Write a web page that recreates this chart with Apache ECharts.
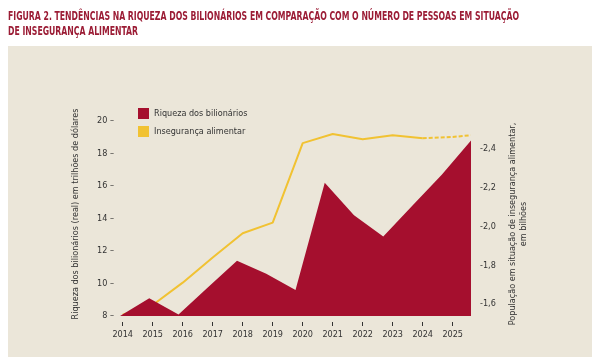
<!DOCTYPE html>
<html><head><meta charset="utf-8">
<script src="https://cdn.jsdelivr.net/npm/echarts@6/dist/echarts.min.js"></script>
<style>html,body{margin:0;padding:0;background:#fff}#c{width:600px;height:357px}</style>
</head><body><div id="c"></div>
<script>
// Tick labels (x axis years)
const yearLabels = [2014,2015,2016,2017,2018,2019,2020,2021,2022,2023,2024,2025];
// Billionaire wealth (trillion USD), as drawn (13 points across the plot width)
const wealthYears = [2014,2015,2016,2017,2018,2019,2020,2021,2022,2023,2024,2025,2026];
const wealthValues = [8.0,9.1,8.1,9.75,11.4,10.6,9.6,16.2,14.2,12.9,14.8,16.7,18.8];
// Food insecurity (billions), solid part
const foodYears = [2014,2015,2016,2017,2018,2019,2020,2021,2022,2023,2024];
const foodValues = [1.545,1.595,1.71,1.84,1.965,2.02,2.43,2.477,2.45,2.47,2.455];
// Food insecurity, dashed (projection) part
const projYears = [2024,2025,2025.6];
const projValues = [2.455,2.462,2.47];
const leftTicks = [8,10,12,14,16,18,20];
const rightTicks = [1.6,1.8,2.0,2.2,2.4];

const RED = '#a50f2e', YEL = '#f1c232', TXT = '#333333';
const FONT = '"DejaVu Sans Condensed","DejaVu Sans",sans-serif';
const TITLE1 = 'FIGURA 2. TENDÊNCIAS NA RIQUEZA DOS BILIONÁRIOS EM COMPARAÇÃO COM O NÚMERO DE PESSOAS EM SITUAÇÃO';
const TITLE2 = 'DE INSEGURANÇA ALIMENTAR';
const TFONT = 'bold 13px ' + FONT;
const ctx = document.createElement('canvas').getContext('2d');
ctx.font = TFONT;
const tScale = 511 / ctx.measureText(TITLE1).width;

const chart = echarts.init(document.getElementById('c'), null, {renderer:'canvas'});
chart.setOption({
  animation:false,
  backgroundColor:'#ffffff',
  graphic:[
    {type:'rect', z:-10, shape:{x:8,y:46,width:584,height:311}, style:{fill:'#ebe6d9'}},
    {type:'text', x:8, y:10, scaleX:tScale, style:{text:TITLE1, fill:'#9b1c35', font:TFONT}},
    {type:'text', x:8, y:25, scaleX:tScale, style:{text:TITLE2, fill:'#9b1c35', font:TFONT}},
    {type:'text', x:76, y:214, rotation:Math.PI/2, style:{text:'Riqueza dos bilionários (real) em trilhões de dólares', fill:TXT, font:'9px '+FONT, align:'center', verticalAlign:'middle'}},
    {type:'text', x:518, y:224, rotation:Math.PI/2, style:{text:'População em situação de insegurança alimentar,\nem bilhões', fill:TXT, font:'9px '+FONT, align:'center', verticalAlign:'middle', lineHeight:11}}
  ],
  legend:{
    left:133, top:103, orient:'vertical', itemWidth:11, itemHeight:11, itemGap:7,
    icon:'rect', textStyle:{color:TXT, fontSize:9, fontFamily:FONT},
    data:[{name:'Riqueza dos bilionários', itemStyle:{color:RED}},{name:'Insegurança alimentar', itemStyle:{color:YEL}}]
  },
  grid:{left:120, right:129, top:121, bottom:41},
  xAxis:[
    {type:'value', min:2013.91, max:2025.61, offset:6,
     axisLine:{show:false}, splitLine:{show:false},
     axisTick:{show:true, length:4, customValues:yearLabels, lineStyle:{color:TXT}},
     axisLabel:{customValues:yearLabels, color:TXT, fontSize:9, fontFamily:FONT, margin:8, formatter:v=>String(v)}},
    {type:'value', min:2014, max:2026, show:false}
  ],
  yAxis:[
    {type:'value', min:8, max:20, interval:2, position:'left',
     axisLine:{show:false}, axisTick:{show:false}, splitLine:{show:false},
     axisLabel:{color:TXT, fontSize:9, fontFamily:FONT, margin:6, formatter:v=>v+' –'}},
    {type:'value', min:1.538, max:2.544, position:'right',
     axisLine:{show:false}, axisTick:{show:false}, splitLine:{show:false},
     axisLabel:{customValues:rightTicks, color:TXT, fontSize:9, fontFamily:FONT, margin:9,
       formatter:v=>'-'+v.toFixed(1).replace('.',',')}}
  ],
  series:[
    {name:'Insegurança alimentar', type:'line', xAxisIndex:0, yAxisIndex:1, z:2,
     data:foodYears.map((y,i)=>[y,foodValues[i]]), symbol:'none',
     itemStyle:{color:YEL}, lineStyle:{color:YEL, width:2}},
    {name:'Insegurança alimentar (projeção)', type:'line', xAxisIndex:0, yAxisIndex:1, z:2,
     data:projYears.map((y,i)=>[y,projValues[i]]), symbol:'none',
     itemStyle:{color:YEL}, lineStyle:{color:YEL, width:2, type:[4,2]}},
    {name:'Riqueza dos bilionários', type:'line', xAxisIndex:1, yAxisIndex:0, z:3,
     data:wealthYears.map((y,i)=>[y,wealthValues[i]]), symbol:'none',
     itemStyle:{color:RED}, lineStyle:{width:0, color:RED}, areaStyle:{color:RED, opacity:1}}
  ]
});
</script></body></html>
